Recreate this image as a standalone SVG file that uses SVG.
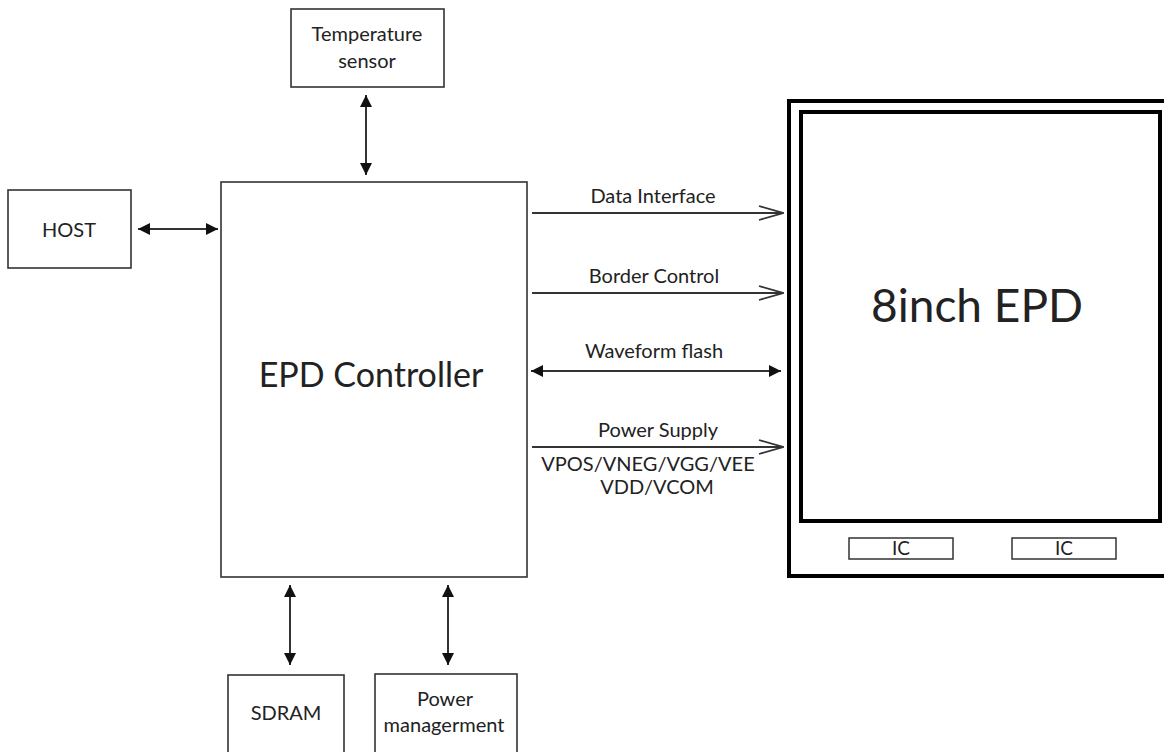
<svg xmlns="http://www.w3.org/2000/svg" width="1164" height="752" viewBox="0 0 1164 752">
<style>
.box{fill:#fff;stroke:#333;stroke-width:1.6}
.thick{fill:none;stroke:#000;stroke-width:4}
.ic{fill:#fff;stroke:#333;stroke-width:1.5}
.ln{stroke:#333;stroke-width:2;fill:none}
text{font-family:Lato,"Liberation Sans",sans-serif;fill:#222;text-anchor:middle}
.s{font-size:20px}
</style>
<defs>
<marker id="fb" viewBox="0 0 12 12" refX="12" refY="6" markerWidth="14" markerHeight="12" markerUnits="userSpaceOnUse" orient="auto-start-reverse">
<path d="M0,0 L12,6 L0,12 z" fill="#111"/>
</marker>
<marker id="oa" viewBox="0 0 26 16" refX="25" refY="8" markerWidth="26" markerHeight="16" markerUnits="userSpaceOnUse" orient="auto">
<path d="M1,1 L25,8 L1,15" fill="none" stroke="#333" stroke-width="1.8"/>
</marker>
</defs>
<g id="temp"><rect class="box" x="291" y="9" width="153" height="78"/><text class="s" x="367" y="41">Temperature</text><text class="s" x="367" y="68">sensor</text></g>
<g id="host"><rect class="box" x="8" y="190" width="123" height="78"/><text class="s" x="69" y="237">HOST</text></g>
<g id="controller"><rect class="box" x="221" y="182" width="306" height="395"/><text x="371" y="387" font-size="34">EPD Controller</text></g>
<g id="sdram"><rect class="box" x="228" y="675" width="116" height="80"/><text class="s" x="286" y="720">SDRAM</text></g>
<g id="power"><rect class="box" x="375" y="674" width="142" height="80"/><text class="s" x="445" y="706">Power</text><text class="s" x="444" y="732">managerment</text></g>
<g id="epd">
<rect class="thick" x="789" y="101" width="400" height="475"/>
<rect class="thick" x="801" y="112" width="359" height="409"/>
<text x="977" y="322" font-size="46">8inch EPD</text>
<rect class="ic" x="849" y="538" width="104" height="21"/><text x="901" y="555" font-size="19">IC</text>
<rect class="ic" x="1012" y="538" width="104" height="21"/><text x="1064" y="555" font-size="19">IC</text>
</g>
<g id="connectors">
<line class="ln" x1="366" y1="95" x2="366" y2="175" marker-start="url(#fb)" marker-end="url(#fb)"/>
<line class="ln" x1="138" y1="229" x2="218" y2="229" marker-start="url(#fb)" marker-end="url(#fb)"/>
<line class="ln" x1="290" y1="585" x2="290" y2="665" marker-start="url(#fb)" marker-end="url(#fb)"/>
<line class="ln" x1="448" y1="585" x2="448" y2="665" marker-start="url(#fb)" marker-end="url(#fb)"/>
<line class="ln" x1="532" y1="213" x2="783" y2="213" marker-end="url(#oa)"/>
<line class="ln" x1="532" y1="293" x2="783" y2="293" marker-end="url(#oa)"/>
<line class="ln" x1="531" y1="371" x2="781" y2="371" marker-start="url(#fb)" marker-end="url(#fb)"/>
<line class="ln" x1="532" y1="447" x2="783" y2="447" marker-end="url(#oa)"/>
<text class="s" x="653" y="203">Data Interface</text>
<text class="s" x="654" y="283">Border Control</text>
<text class="s" x="654" y="358">Waveform flash</text>
<text class="s" x="658" y="437">Power Supply</text>
<text class="s" x="648" y="471">VPOS/VNEG/VGG/VEE</text>
<text class="s" x="657" y="494">VDD/VCOM</text>
</g>
</svg>
